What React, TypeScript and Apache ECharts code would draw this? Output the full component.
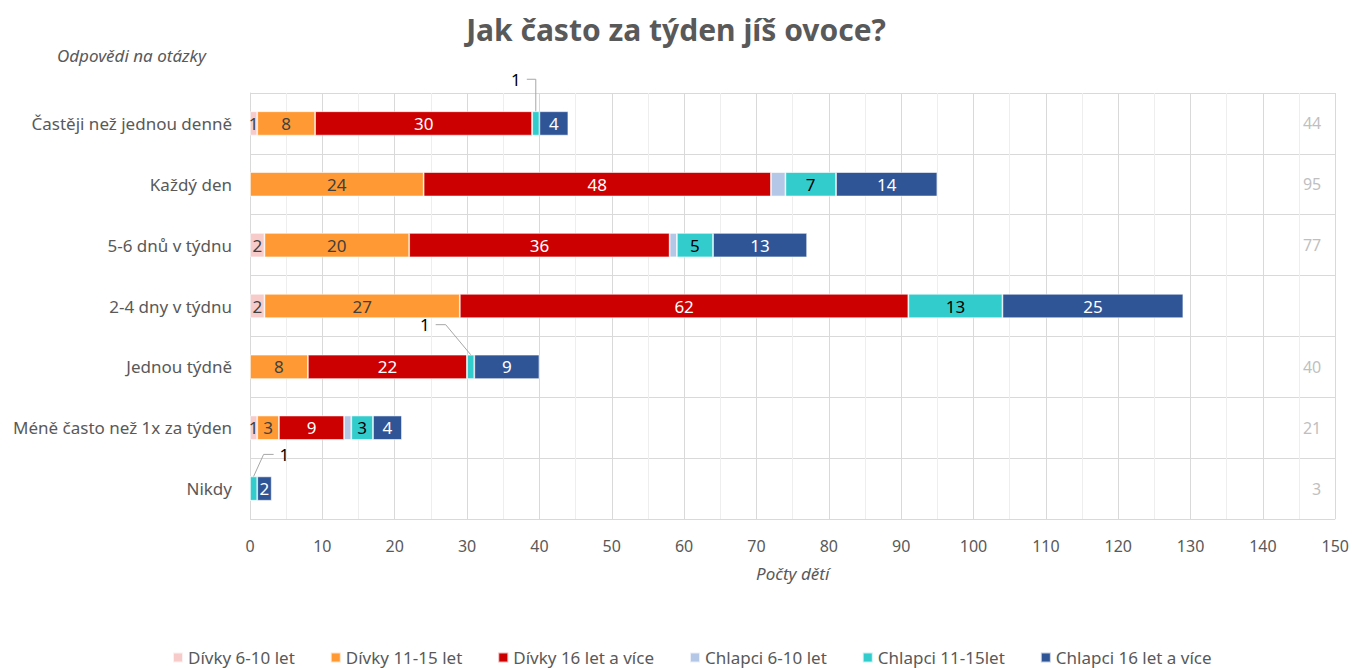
import React, { useEffect, useRef } from "react";
import * as echarts from "echarts";

const categories = [
  "Častěji než jednou denně",
  "Každý den",
  "5-6 dnů v týdnu",
  "2-4 dny v týdnu",
  "Jednou týdně",
  "Méně často než 1x za týden",
  "Nikdy",
];
const seriesNames = [
  "Dívky 6-10 let",
  "Dívky 11-15 let",
  "Dívky 16 let a více",
  "Chlapci 6-10 let",
  "Chlapci 11-15let",
  "Chlapci 16 let a více",
];
const divky610 = [1, 0, 2, 2, 0, 1, 0];
const divky1115 = [8, 24, 20, 27, 8, 3, 0];
const divky16 = [30, 48, 36, 62, 22, 9, 0];
const chlapci610 = [0, 2, 1, 0, 0, 1, 0];
const chlapci1115 = [1, 7, 5, 13, 1, 3, 1];
const chlapci16 = [4, 14, 13, 25, 9, 4, 2];
const totalLabels = ["44", "95", "77", "", "40", "21", "3"];
const leaderCats = [0, 4, 6];

const xMin = 0;
const xMax = 150;
const xInterval = 10;

const allSeries = [divky610, divky1115, divky16, chlapci610, chlapci1115, chlapci16];
const colors = ["#F8CBCB", "#FF9933", "#CC0000", "#B4C7E7", "#33CCCC", "#2F5597"];
const labelColors = ["#404040", "#404040", "#ffffff", "#404040", "#000000", "#ffffff"];
const labelShown = [true, true, true, false, true, true];
const leaderSeriesIndex = 4;

// leader line shapes relative to the top-centre of the segment
const leaderShapes = [
  { pts: [[0, 0], [0, -32], [-9, -32]], label: [-15, -32], align: "right" },
  { pts: [[0, 0], [-25, -30], [-35, -30]], label: [-41, -30], align: "right" },
  { pts: [[0, 0], [10, -22], [20, -22]], label: [26, -22], align: "left" },
];

const FONT = "'Noto Sans', 'Open Sans', sans-serif";

export default function App() {
  const ref = useRef<HTMLDivElement>(null);
  useEffect(() => {
    if (!ref.current) return;
    const chart = echarts.init(ref.current, undefined, { renderer: "svg" });

    const barSeries = allSeries.map((arr, si) => ({
      name: seriesNames[si],
      type: "bar",
      stack: "total",
      barWidth: "40%",
      data: arr,
      itemStyle: { color: colors[si], borderColor: "rgba(255,255,255,0.7)", borderWidth: 0.8 },
      label: {
        show: labelShown[si],
        position: "inside",
        color: labelColors[si],
        fontSize: 17,
        fontFamily: FONT,
        formatter: (p: any) => {
          if (!p.value) return "";
          if (si === leaderSeriesIndex && leaderCats.includes(p.dataIndex)) return "";
          return String(p.value);
        },
      },
      emphasis: { disabled: true },
    }));

    const leaderData = leaderCats.map((c) => {
      let start = 0;
      for (let s = 0; s < leaderSeriesIndex; s++) start += allSeries[s][c];
      return [c, start, start + allSeries[leaderSeriesIndex][c], allSeries[leaderSeriesIndex][c]];
    });

    const leaderSeries = {
      type: "custom",
      name: "leaders",
      coordinateSystem: "cartesian2d",
      xAxisIndex: 0,
      yAxisIndex: 0,
      encode: { x: [1, 2], y: 0 },
      data: leaderData,
      silent: true,
      z: 5,
      renderItem: (params: any, api: any) => {
        const c = api.value(0);
        const s = api.value(1);
        const e = api.value(2);
        const v = api.value(3);
        const mid = api.coord([(s + e) / 2, c]);
        const band = api.size([0, 1])[1];
        const top = mid[1] - (band * 0.4) / 2;
        const shape = leaderShapes[params.dataIndex];
        const ax = mid[0];
        const ay = top;
        return {
          type: "group",
          children: [
            {
              type: "polyline",
              shape: { points: shape.pts.map((p) => [ax + p[0], ay + p[1]]) },
              style: { stroke: "#a6a6a6", lineWidth: 1, fill: null },
            },
            {
              type: "text",
              x: ax + shape.label[0],
              y: ay + shape.label[1],
              style: {
                text: String(v),
                fill: "#000000",
                fontSize: 17,
                fontFamily: FONT,
                align: shape.align,
                verticalAlign: "middle",
              },
            },
          ],
        };
      },
    };

    chart.setOption({
      animation: false,
      textStyle: { fontFamily: FONT },
      title: {
        text: "Jak často za týden jíš ovoce?",
        left: "center",
        top: 9,
        textStyle: { fontSize: 30, fontWeight: "bold", color: "#595959", fontFamily: FONT },
      },
      graphic: [
        {
          type: "text",
          left: 57,
          top: 47,
          style: {
            text: "Odpovědi na otázky",
            fontSize: 17,
            fontStyle: "italic",
            fill: "#595959",
            fontFamily: FONT,
          },
        },
      ],
      legend: {
        bottom: 0,
        left: 167,
        padding: [5, 5, 2, 5],
        icon: "rect",
        itemWidth: 10,
        itemHeight: 10,
        itemGap: 35,
        data: seriesNames,
        textStyle: { fontSize: 17, color: "#595959", fontFamily: FONT },
      },
      grid: { left: 250, right: 16, top: 93, bottom: 149, containLabel: false },
      xAxis: {
        type: "value",
        min: xMin,
        max: xMax,
        interval: xInterval,
        name: "Počty dětí",
        nameLocation: "middle",
        nameGap: 46,
        nameTextStyle: { fontSize: 17, fontStyle: "italic", color: "#595959", fontFamily: FONT },
        axisLine: { show: false },
        axisTick: { show: false },
        axisLabel: { fontSize: 16, color: "#595959", margin: 19, fontFamily: FONT },
        splitLine: { show: true, lineStyle: { color: "#d9d9d9", width: 1 } },
        minorTick: { show: false, splitNumber: 2 },
        minorSplitLine: { show: true, lineStyle: { color: "#eeeeee", width: 1 } },
      },
      yAxis: [
        {
          type: "category",
          data: categories,
          inverse: true,
          axisLine: { show: true, lineStyle: { color: "#d9d9d9" } },
          axisTick: { show: false },
          axisLabel: { fontSize: 17, color: "#595959", margin: 18, fontFamily: FONT },
          splitLine: { show: true, interval: 0, lineStyle: { color: "#d9d9d9", width: 1 } },
        },
        {
          type: "category",
          data: categories,
          inverse: true,
          position: "right",
          axisLine: { show: false },
          axisTick: { show: false },
          splitLine: { show: false },
          axisLabel: {
            inside: true,
            margin: 14,
            fontSize: 16,
            color: "#bfbfbf",
            fontFamily: FONT,
            formatter: (_v: string, i: number) => totalLabels[i],
          },
        },
      ],
      series: [...barSeries, leaderSeries],
    });

    return () => chart.dispose();
  }, []);

  return (
    <div
      ref={ref}
      style={{ position: "absolute", left: 0, top: 0, width: 1352, height: 668 }}
    />
  );
}
